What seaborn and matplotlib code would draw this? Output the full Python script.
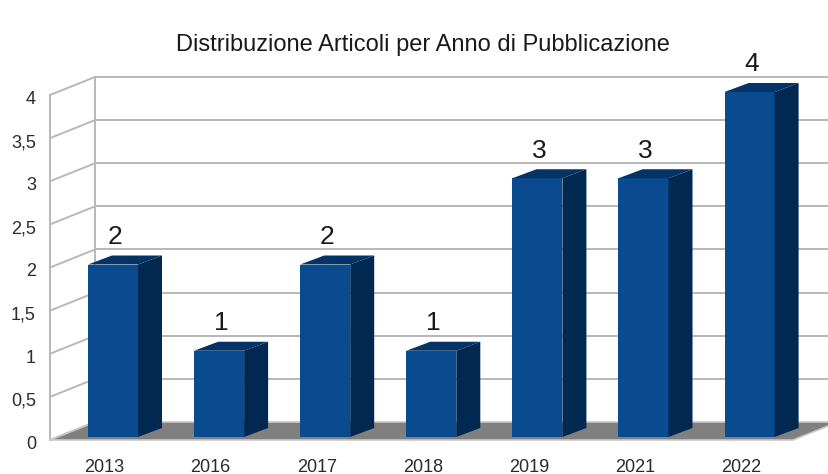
import numpy as np
import pandas as pd
import seaborn as sns
import matplotlib.pyplot as plt
from matplotlib.patches import Polygon

# data
anni = ['2013', '2016', '2017', '2018', '2019', '2021', '2022']
articoli = [2, 1, 2, 1, 3, 3, 4]
yticks = [0, 0.5, 1, 1.5, 2, 2.5, 3, 3.5, 4]
ytick_labels = ['0', '0,5', '1', '1,5', '2', '2,5', '3', '3,5', '4']
titolo = 'Distribuzione Articoli per Anno di Pubblicazione'

df = pd.DataFrame({'anno': anni, 'n': articoli})

sns.set_style('white')
plt.rcParams['font.family'] = ['Liberation Sans', 'DejaVu Sans']

fig = plt.figure(figsize=(8.29, 4.74), dpi=100)
ax = fig.add_axes([0, 0, 1, 1])

# "3d" geometry (data units)
PX, PY = 106.1, 86.25
fdy = -3 / PY                       # front plane shift
wdx, wdy = 45 / PX, 18 / PY         # wall depth
bdx, bdy = 24 / PX, 9 / PY          # bar depth
x_left = (50 - 113) / PX
x_right = (793 - 113) / PX
bw = 50 / PX

front_col = '#0a4a8f'
side_col = '#012850'
top_col = '#033465'
grid_col = '#b8b8b8'
txt_col = '#2b2b2b'

# floor
floor = Polygon([(x_left, fdy), (x_right, fdy), (x_right + wdx, fdy + wdy),
                 (x_left + wdx, fdy + wdy)], closed=True, facecolor='#808080',
                edgecolor='#c8c8c8', lw=1.2, zorder=1)
ax.add_patch(floor)

# walls / grid
for v in yticks:
    ax.plot([x_left, x_left + wdx], [v + fdy, v + fdy + wdy], color=grid_col, lw=1.4, zorder=0.5)
    if v > 0:
        ax.plot([x_left + wdx, 8], [v + fdy + wdy, v + fdy + wdy], color=grid_col, lw=1.4, zorder=0.5)
ax.plot([x_left, x_left], [fdy, 4 + fdy], color=grid_col, lw=1.4, zorder=0.5)
ax.plot([x_left + wdx, x_left + wdx], [fdy + wdy, 4 + fdy + wdy], color=grid_col, lw=1.4, zorder=0.5)

# bars
sns.barplot(data=df, x='anno', y='n', color=front_col, saturation=1, width=bw,
            ax=ax, zorder=3, linewidth=0)

for p, v in zip(ax.patches[1:], articoli):
    x0 = p.get_x()
    x1 = x0 + p.get_width()
    h = p.get_height()
    side = Polygon([(x1, 0), (x1 + bdx, bdy), (x1 + bdx, h + bdy), (x1, h)],
                   closed=True, facecolor=side_col, lw=0, zorder=3)
    top = Polygon([(x0, h), (x0 + bdx, h + bdy), (x1 + bdx, h + bdy), (x1, h)],
                  closed=True, facecolor=top_col, lw=0, zorder=3)
    ax.add_patch(side)
    ax.add_patch(top)
    ax.text(x0 + p.get_width() / 2 + 0.02, h + 0.32, str(v), ha='center', va='center',
            fontsize=19, color='#1a1a1a')

for i, a in enumerate(anni):
    ax.text(i - 0.08, (437 - 467) / PY, a, ha='center', va='center', fontsize=13, color=txt_col)

for v, lab in zip(yticks, ytick_labels):
    ax.text((36 - 113) / PX, v + fdy - 4.5 / PY, lab, ha='right', va='center', fontsize=13, color=txt_col)

ax.text((423 - 113) / PX, (437 - 45) / PY, titolo, ha='center', va='center',
        fontsize=17, color='#1a1a1a')

ax.set_xlim(-113 / PX, (829 - 113) / PX)
ax.set_ylim(-(474 - 437) / PY, 437 / PY)
ax.axis('off')

fig.savefig('out.png', dpi=100)
